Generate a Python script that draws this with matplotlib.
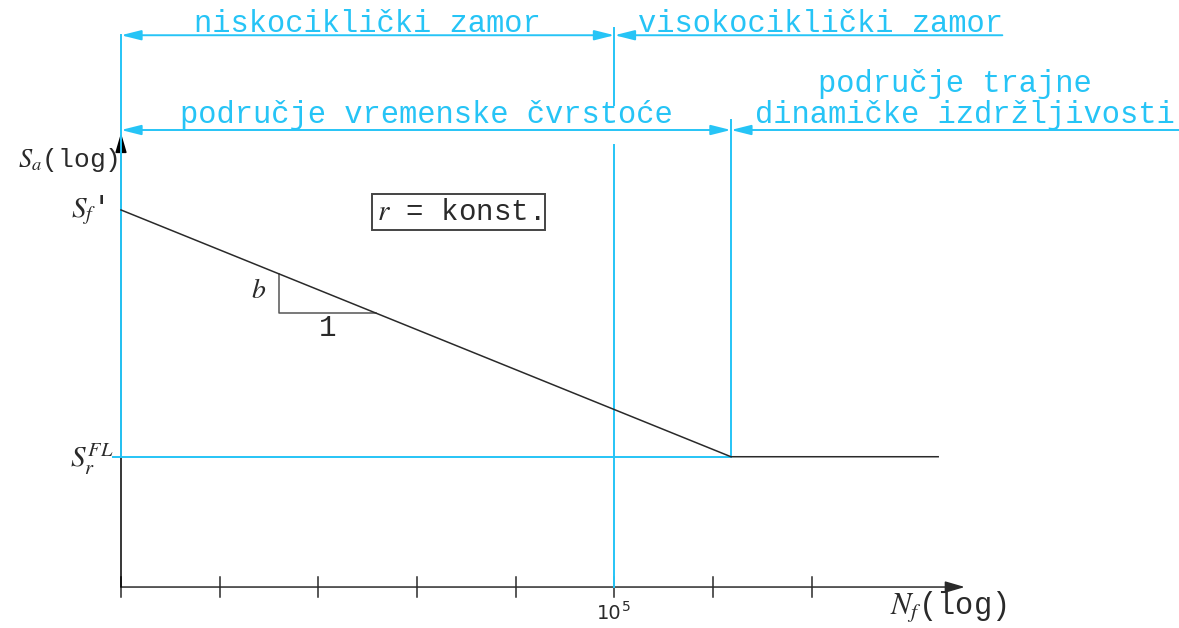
import numpy as np
import matplotlib.pyplot as plt

plt.rcParams['mathtext.fontset'] = 'stix'
plt.rcParams['font.family'] = ['Liberation Mono', 'DejaVu Sans']

# diagram units: one x unit = one decade on the N_f (log) axis
tick_pos = [0, 1, 2, 3, 4, 5, 6, 7]
n_lcf = 5        # 10^5, border low / high cycle fatigue
n_knee = 6.18    # start of the endurance region
n_end = 8.28
x_axis_end = 8.55
y_axis_end = 4.60

s_f = 3.82       # S_f'
s_fl = 1.32      # S_r^FL
sn_x = [0, n_knee, n_end]
sn_y = [s_f, s_fl, s_fl]

tri_x = [1.6, 2.58]   # slope triangle b : 1

y_top = 5.59     # niskociklicki / visokociklicki line
y_mid = 4.63     # vremenska cvrstoca / trajna izdrzljivost line

cyan = '#26c4f6'
dark = '#2a2a2a'

fig = plt.figure(figsize=(11.79, 6.28), dpi=100)
ax = fig.add_axes([0, 0, 1, 1])
ax.set_xlim(-1.226, 10.72)
ax.set_ylim(-0.415, 5.947)
ax.axis('off')


def arrow(x0, x1, y, style, color=cyan, lw=1.4, hl=1.2, hw=0.3):
    ax.annotate('', xy=(x1, y), xytext=(x0, y),
                arrowprops=dict(arrowstyle=f'{style},head_length={hl},head_width={hw}',
                                color=color, lw=lw, shrinkA=0, shrinkB=0,
                                mutation_scale=10))


# axes with arrows
ax.annotate('', xy=(x_axis_end, 0), xytext=(0, 0),
            arrowprops=dict(arrowstyle='-|>,head_length=1.2,head_width=0.35',
                            color=dark, lw=1.1, shrinkA=0, shrinkB=0, mutation_scale=10))
ax.annotate('', xy=(0, y_axis_end), xytext=(0, 0),
            arrowprops=dict(arrowstyle='-|>,head_length=1.2,head_width=0.35',
                            color='black', lw=1.1, shrinkA=0, shrinkB=0, mutation_scale=10))
for t in tick_pos:
    ax.plot([t, t], [-0.1, 0.1], color=dark, lw=1.1)

# cyan region borders
ax.plot([0, 0], [s_fl, y_top], color=cyan, lw=1.4, zorder=3)
ax.plot([-0.08, n_knee], [s_fl, s_fl], color=cyan, lw=1.4)
ax.plot([n_knee, n_knee], [s_fl, y_mid + 0.1], color=cyan, lw=1.4)
ax.plot([n_lcf, n_lcf], [0, y_mid - 0.15], color=cyan, lw=1.4, zorder=3)
ax.plot([n_lcf, n_lcf], [y_mid + 0.25, y_top + 0.07], color=cyan, lw=1.4)

arrow(n_lcf, 0, y_top, '<|-|>')
arrow(8.93, n_lcf, y_top, '-|>')
arrow(n_knee, 0, y_mid, '<|-|>')
arrow(10.75, n_knee, y_mid, '-|>')

# S-N curve
ax.plot(sn_x, sn_y, color=dark, lw=1.1, zorder=4)
tri_y = np.interp(tri_x, sn_x[:2], sn_y[:2])
ax.plot([tri_x[0], tri_x[0], tri_x[1]], [tri_y[0], tri_y[1], tri_y[1]], color='#555555', lw=1.1)
ax.text(tri_x[0] - 0.21, (tri_y[0] + tri_y[1]) / 2 + 0.02, '$b$', fontsize=20,
        ha='center', va='center', color=dark)
ax.text((tri_x[0] + tri_x[1]) / 2, tri_y[1] - 0.15, '1', fontsize=21,
        ha='center', va='center', color=dark)

# cyan labels
ax.text((0 + n_lcf) / 2, y_top + 0.03, 'niskociklički zamor', color=cyan,
        fontsize=22, ha='center', va='baseline')
ax.text(n_lcf + 0.24, y_top + 0.03, 'visokociklički zamor', color=cyan,
        fontsize=22, ha='left', va='baseline')
ax.text(3.09, y_mid + 0.07, 'područje vremenske čvrstoće', color=cyan,
        fontsize=22, ha='center', va='baseline')
ax.text(8.45, y_mid + 0.38, 'područje trajne', color=cyan,
        fontsize=22, ha='center', va='baseline')
ax.text(6.42, y_mid + 0.07, 'dinamičke izdržljivosti', color=cyan,
        fontsize=22, ha='left', va='baseline')

# black labels
ax.text(-0.03, 4.33, '$S_a$(log)', fontsize=19, ha='right', va='center', color=dark)
ax.text(-0.17, s_f + 0.0, "$S_f$'", fontsize=21, ha='right', va='center', color=dark)
ax.text(-0.08, s_fl - 0.03, '$S_r^{FL}$', fontsize=21, ha='right', va='center', color=dark)
ax.text(7.79, -0.21, '$N_f$(log)', fontsize=22, ha='left', va='center', color=dark)
ax.text(n_lcf + 0.07, -0.325, '10', fontsize=14, ha='right', va='baseline', color=dark,
        family='DejaVu Sans')
ax.text(n_lcf + 0.08, -0.24, '5', fontsize=10, ha='left', va='baseline', color=dark,
        family='DejaVu Sans')
ax.text(3.42, 3.80, '$r$ = konst.', fontsize=21, ha='center', va='center', color=dark,
        bbox=dict(boxstyle='square,pad=0.15', fc='white', ec='#444444', lw=1.4))

fig.savefig('out.png', dpi=100)
